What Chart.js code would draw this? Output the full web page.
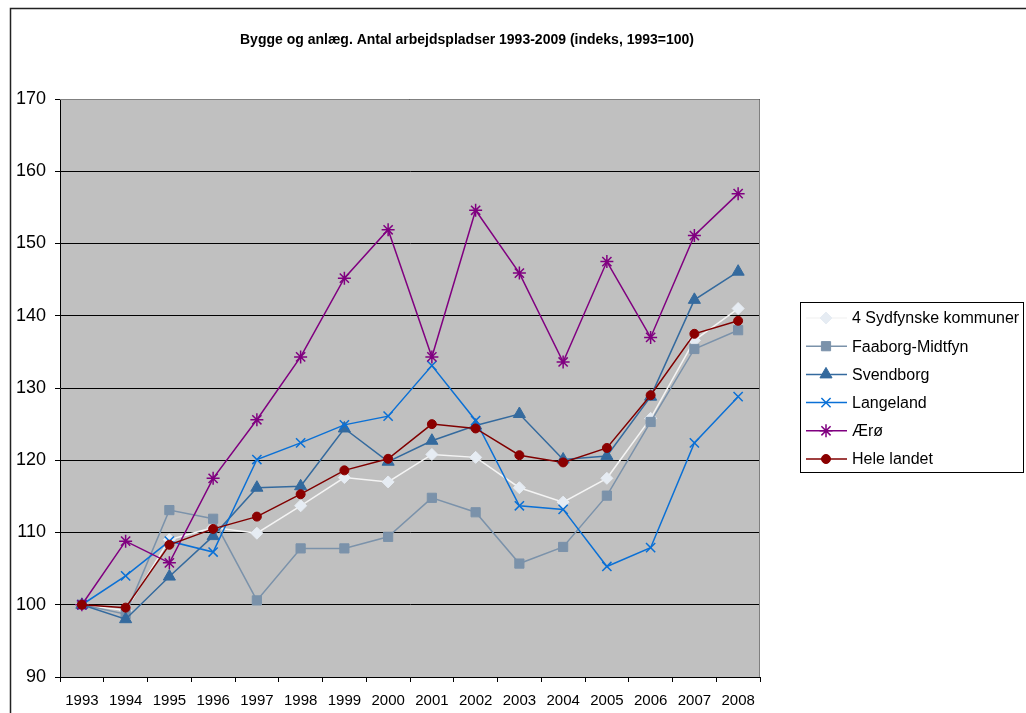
<!DOCTYPE html>
<html>
<head>
<meta charset="utf-8">
<script src="https://cdn.jsdelivr.net/npm/chart.js@4/dist/chart.umd.min.js"></script>
<style>
  html, body { margin: 0; padding: 0; background: #fff; }
  #wrap { width: 1026px; height: 713px; position: relative; }
</style>
</head>
<body>
<div id="wrap"><canvas id="chart"></canvas></div>
<script>
const title = 'Bygge og anlæg. Antal arbejdspladser 1993-2009 (indeks, 1993=100)';
const years = ['1993','1994','1995','1996','1997','1998','1999','2000','2001','2002','2003','2004','2005','2006','2007','2008'];

const sydfynske = [100, 99.2, 109.0, 110.7, 109.9, 113.7, 117.6, 117.0, 120.8, 120.4, 116.2, 114.2, 117.5, 125.8, 136.6, 141.0];
const faaborg   = [100, 98.7, 113.1, 111.9, 100.6, 107.8, 107.8, 109.4, 114.8, 112.8, 105.7, 108.0, 115.1, 125.3, 135.4, 138.0];
const svendborg = [100, 98.0, 103.9, 109.5, 116.2, 116.4, 124.4, 119.8, 122.7, 124.8, 126.4, 120.1, 120.6, 128.8, 142.2, 146.1];
const langeland = [100, 104.0, 108.8, 107.3, 120.1, 122.4, 124.9, 126.1, 133.1, 125.5, 113.7, 113.2, 105.3, 107.9, 122.4, 128.8];
const aeroe     = [100, 108.8, 105.8, 117.5, 125.6, 134.3, 145.2, 151.9, 134.3, 154.6, 145.9, 133.6, 147.5, 137.0, 151.1, 156.9];
const heleLandet = [100, 99.6, 108.3, 110.5, 112.2, 115.3, 118.6, 120.2, 125.0, 124.4, 120.7, 119.7, 121.7, 129.0, 137.5, 139.3];

const yTicks = [90, 100, 110, 120, 130, 140, 150, 160, 170];

const series = [
  { label: '4 Sydfynske kommuner', data: sydfynske, line: '#f4f4f4', fill: '#e6ecf3', style: 'rectRot', r: 6 },
  { label: 'Faaborg-Midtfyn', data: faaborg, line: '#7b92aa', fill: '#7b92aa', style: 'rect', r: 6.5 },
  { label: 'Svendborg', data: svendborg, line: '#346a9e', fill: '#346a9e', style: 'triangle', r: 7 },
  { label: 'Langeland', data: langeland, line: '#0a70d6', fill: '#0a70d6', style: 'crossRot', r: 6.5 },
  { label: 'Ærø', data: aeroe, line: '#800080', fill: '#800080', style: 'star', r: 6.5 },
  { label: 'Hele landet', data: heleLandet, line: '#800000', fill: '#8b0000', style: 'circle', r: 4.5 }
];

const frame = {
  id: 'frame',
  beforeDraw(chart) {
    const ctx = chart.ctx;
    ctx.save();
    ctx.fillStyle = '#fff';
    ctx.fillRect(0, 0, chart.width, chart.height);
    const a = chart.chartArea;
    ctx.fillStyle = '#c0c0c0';
    ctx.fillRect(a.left, a.top, a.right - a.left, a.bottom - a.top);
    ctx.strokeStyle = '#222';
    ctx.lineWidth = 1.5;
    ctx.beginPath();
    ctx.moveTo(10.5, chart.height);
    ctx.lineTo(10.5, 8.5);
    ctx.lineTo(chart.width, 8.5);
    ctx.stroke();
    ctx.restore();
  },
  afterDatasetsDraw(chart) {
    const ctx = chart.ctx;
    const a = chart.chartArea;
    ctx.save();
    ctx.strokeStyle = '#808080';
    ctx.lineWidth = 1;
    ctx.beginPath();
    ctx.moveTo(a.left, a.top + 0.5);
    ctx.lineTo(a.right - 0.5, a.top + 0.5);
    ctx.lineTo(a.right - 0.5, a.bottom);
    ctx.stroke();
    ctx.restore();
  },
  afterDraw(chart) {
    const ctx = chart.ctx;
    ctx.save();
    ctx.fillStyle = '#000';
    ctx.font = 'bold 14px "Liberation Sans", Arial, sans-serif';
    ctx.textAlign = 'center';
    ctx.textBaseline = 'middle';
    ctx.fillText(title, 467, 40);

    // legend
    const bx = 800.5, by = 302.5, bw = 223, bh = 170;
    ctx.strokeStyle = '#000';
    ctx.lineWidth = 1;
    ctx.strokeRect(bx, by, bw, bh);
    ctx.font = '16px "Liberation Sans", Arial, sans-serif';
    ctx.textAlign = 'left';
    chart.data.datasets.forEach((ds, i) => {
      const y = 318 + i * 28.2;
      ctx.strokeStyle = ds.borderColor;
      ctx.lineWidth = 1.5;
      ctx.beginPath();
      ctx.moveTo(806, y);
      ctx.lineTo(847, y);
      ctx.stroke();
      ctx.fillStyle = ds.pointBackgroundColor;
      ctx.strokeStyle = ds.pointBorderColor;
      ctx.lineWidth = ds.pointBorderWidth;
      Chart.helpers.drawPoint(ctx, {
        pointStyle: ds.pointStyle,
        radius: ds.pointRadius,
        rotation: 0,
        borderWidth: ds.pointBorderWidth
      }, 826, y);
      ctx.fillStyle = '#000';
      ctx.fillText(ds.label, 852, y + 1);
    });
    ctx.restore();
  }
};

new Chart(document.getElementById('chart'), {
  type: 'line',
  data: {
    labels: years,
    datasets: series.map((s, i) => ({
      label: s.label,
      data: s.data,
      borderColor: s.line,
      backgroundColor: s.fill,
      pointBackgroundColor: s.fill,
      pointBorderColor: s.style === 'crossRot' || s.style === 'star' ? s.line : s.fill,
      pointStyle: s.style,
      pointRadius: s.r,
      pointBorderWidth: s.style === 'crossRot' || s.style === 'star' ? 1.5 : 1,
      borderWidth: 1.5,
      tension: 0,
      order: series.length - i
    }))
  },
  options: {
    responsive: true,
    maintainAspectRatio: false,
    animation: false,
    layout: { padding: { left: 10, right: 266, top: 99, bottom: 0 } },
    plugins: {
      legend: { display: false },
      title: { display: false },
      tooltip: { enabled: false }
    },
    scales: {
      x: {
        offset: true,
        afterFit: s => { s.height = 36; },
        grid: { drawOnChartArea: false, tickLength: 5, color: '#000', offset: true },
        border: { color: '#000', width: 1 },
        ticks: {
          color: '#000',
          padding: 10,
          maxRotation: 0,
          autoSkip: false,
          font: { family: '"Liberation Sans", Arial, sans-serif', size: 15 }
        }
      },
      y: {
        min: 90,
        max: 170,
        afterFit: s => { s.width = 50; },
        afterBuildTicks: s => { s.ticks = yTicks.map(v => ({ value: v })); },
        grid: { color: '#000', lineWidth: 1, tickLength: 5 },
        border: { color: '#000', width: 1 },
        ticks: {
          color: '#000',
          padding: 9,
          font: { family: '"Liberation Sans", Arial, sans-serif', size: 18 }
        }
      }
    }
  },
  plugins: [frame]
});
</script>
</body>
</html>
